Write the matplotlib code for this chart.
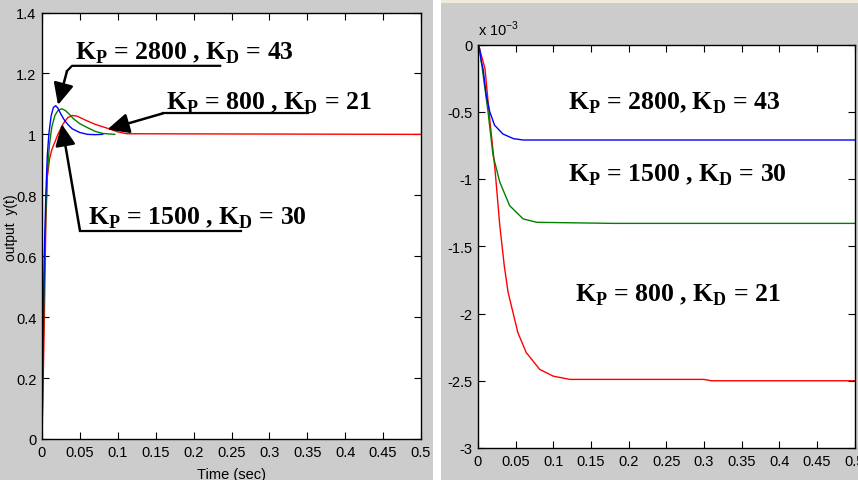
import matplotlib.pyplot as plt
from matplotlib.patches import Rectangle

plt.rcParams['mathtext.fontset'] = 'custom'
plt.rcParams['mathtext.bf'] = 'Liberation Serif:bold'
plt.rcParams['mathtext.rm'] = 'Liberation Serif'

# step response y(t) for the three PD gain sets
t_2800 = [0, 0.001, 0.002, 0.003, 0.005, 0.007, 0.009, 0.012, 0.015, 0.018, 0.021, 0.025,
          0.03, 0.035, 0.04, 0.05, 0.06, 0.07, 0.08]
y_2800 = [0, 0.25, 0.45, 0.6, 0.8, 0.93, 1.0, 1.06, 1.088, 1.094, 1.086, 1.066,
          1.045, 1.03, 1.018, 1.006, 1.0, 0.999, 1.0]

t_1500 = [0, 0.001, 0.002, 0.003, 0.005, 0.007, 0.01, 0.013, 0.017, 0.021, 0.026, 0.031,
          0.036, 0.042, 0.05, 0.06, 0.07, 0.08, 0.096]
y_1500 = [0, 0.2, 0.38, 0.52, 0.74, 0.87, 0.97, 1.025, 1.062, 1.078, 1.084, 1.078,
          1.066, 1.05, 1.035, 1.022, 1.01, 1.003, 1.0]

t_800 = [0, 0.001, 0.002, 0.003, 0.005, 0.007, 0.01, 0.013, 0.017, 0.021, 0.028, 0.034,
         0.04, 0.046, 0.052, 0.058, 0.07, 0.08, 0.09, 0.1, 0.112, 0.5]
y_800 = [0, 0.12, 0.25, 0.38, 0.7, 0.86, 0.92, 0.95, 0.975, 1.0, 1.035, 1.055,
         1.062, 1.06, 1.053, 1.046, 1.033, 1.025, 1.017, 1.008, 1.002, 1.0]

# tracking error (x 10^-3)
te_2800 = [0, 0.002, 0.0045, 0.0067, 0.011, 0.0156, 0.022, 0.033, 0.047, 0.06, 0.5]
e_2800 = [0, -0.03, -0.13, -0.18, -0.38, -0.5, -0.6, -0.665, -0.7, -0.71, -0.71]

te_1500 = [0, 0.002, 0.005, 0.0133, 0.02, 0.029, 0.042, 0.06, 0.078, 0.18, 0.5]
e_1500 = [0, -0.04, -0.15, -0.5, -0.825, -1.024, -1.198, -1.297, -1.322, -1.33, -1.33]

te_800 = [0, 0.002, 0.0093, 0.016, 0.0226, 0.029, 0.035, 0.04, 0.053, 0.064, 0.082,
          0.1, 0.122, 0.3, 0.31, 0.5]
e_800 = [0, -0.03, -0.18, -0.58, -0.93, -1.35, -1.65, -1.844, -2.143, -2.29, -2.416,
         -2.466, -2.49, -2.49, -2.5, -2.5]

x_ticks = [0, 0.05, 0.1, 0.15, 0.2, 0.25, 0.3, 0.35, 0.4, 0.45, 0.5]
x_labels = ['0', '0.05', '0.1', '0.15', '0.2', '0.25', '0.3', '0.35', '0.4', '0.45', '0.5']
y_ticks_l = [0, 0.2, 0.4, 0.6, 0.8, 1.0, 1.2, 1.4]
y_labels_l = ['0', '0.2', '0.4', '0.6', '0.8', '1', '1.2', '1.4']
y_ticks_r = [0, -0.5, -1, -1.5, -2, -2.5, -3]
y_labels_r = ['0', '-0.5', '-1', '-1.5', '-2', '-2.5', '-3']

lbl_2800 = r'K$_\mathbf{P}$ = 2800 , K$_\mathbf{D}$ = 43'
lbl_2800b = r'K$_\mathbf{P}$ = 2800, K$_\mathbf{D}$ = 43'
lbl_1500 = r'K$_\mathbf{P}$ = 1500 , K$_\mathbf{D}$ = 30'
lbl_800 = r'K$_\mathbf{P}$ = 800 , K$_\mathbf{D}$ = 21'

W, H = 858, 481
fig = plt.figure(figsize=(W / 100, H / 100), dpi=100, facecolor='white')

# grey figure backgrounds of the two windows
gray = '#cccccc'
fig.add_artist(Rectangle((0, 0), 433 / W, 1, transform=fig.transFigure,
                         facecolor=gray, edgecolor='none', zorder=-5))
fig.add_artist(Rectangle((441 / W, 0), 1, (H - 3.5) / H, transform=fig.transFigure,
                         facecolor=gray, edgecolor='none', zorder=-5))
fig.add_artist(Rectangle((441 / W, (H - 3.5) / H), 1, 3.5 / H, transform=fig.transFigure,
                         facecolor='#efebd8', edgecolor='none', zorder=-5))

tick_font = dict(family=['Liberation Sans Narrow', 'Liberation Sans', 'DejaVu Sans'], size=10.5)
ann_font = dict(family='Liberation Serif', weight='bold', size=18.5)


def style(ax):
    ax.set_facecolor('white')
    ax.tick_params(direction='in', top=True, right=True, length=5, width=0.8,
                   colors='black', pad=4)
    for lab in ax.get_xticklabels() + ax.get_yticklabels():
        lab.set_fontfamily(tick_font['family'])
        lab.set_fontsize(tick_font['size'])
    for s in ax.spines.values():
        s.set_linewidth(1.0)


# left: output y(t)
ax1 = fig.add_axes([42 / W, (H - 440) / H, 379 / W, 426.5 / H])
ax1.plot(t_800, y_800, color='#ff0000', lw=1.0)
ax1.plot(t_1500, y_1500, color='#008000', lw=1.0)
ax1.plot(t_2800, y_2800, color='#0000ff', lw=1.0)
ax1.set_xlim(0, 0.5)
ax1.set_ylim(0, 1.4)
ax1.set_xticks(x_ticks, x_labels)
ax1.set_yticks(y_ticks_l, y_labels_l)
style(ax1)
ax1.set_xlabel('Time (sec)', fontfamily=tick_font['family'], fontsize=10.5, labelpad=6)
ax1.set_ylabel('output  y(t)', fontfamily=tick_font['family'], fontsize=10, va='center')
ax1.yaxis.set_label_coords(-0.082, 0.497)

arrow = dict(arrowstyle='-|>,head_length=0.6,head_width=0.28', lw=1.8, color='black',
             shrinkA=0, shrinkB=0, mutation_scale=22)

ax1.text(0.0435, 1.2475, lbl_2800, **ann_font)
ax1.plot([0.235, 0.0396, 0.033], [1.225, 1.225, 1.208], color='black', lw=1.6, clip_on=False)
ax1.annotate('', xy=(0.0211, 1.0965), xytext=(0.033, 1.208), arrowprops=arrow)

ax1.text(0.1633, 1.0834, lbl_800, **ann_font)
ax1.plot([0.351, 0.1596], [1.069, 1.069], color='black', lw=1.6)
ax1.annotate('', xy=(0.0862, 1.016), xytext=(0.1596, 1.069), arrowprops=arrow)

ax1.text(0.0611, 0.706, lbl_1500, **ann_font)
ax1.plot([0.262, 0.0501], [0.684, 0.684], color='black', lw=1.6)
ax1.annotate('', xy=(0.026, 1.034), xytext=(0.0501, 0.684), arrowprops=arrow)

# right: tracking error
ax2 = fig.add_axes([478 / W, (H - 449) / H, 376.5 / W, 403.5 / H])
ax2.plot(te_800, e_800, color='#ff0000', lw=1.0)
ax2.plot(te_1500, e_1500, color='#008000', lw=1.0)
ax2.plot(te_2800, e_2800, color='#0000ff', lw=1.0)
ax2.set_xlim(0, 0.5)
ax2.set_ylim(-3, 0)
ax2.set_xticks(x_ticks, x_labels)
ax2.set_yticks(y_ticks_r, y_labels_r)
style(ax2)
ax2.text(0, 1.015, r'x 10$^{\mathregular{-3}}$', transform=ax2.transAxes, ha='left', va='bottom',
         fontfamily=tick_font['family'], fontsize=10.5)

ax2.text(0.119, -0.477, lbl_2800b, **ann_font)
ax2.text(0.119, -1.012, lbl_1500, **ann_font)
ax2.text(0.1287, -1.907, lbl_800, **ann_font)

fig.savefig('out.png', dpi=100)
plt.close(fig)
